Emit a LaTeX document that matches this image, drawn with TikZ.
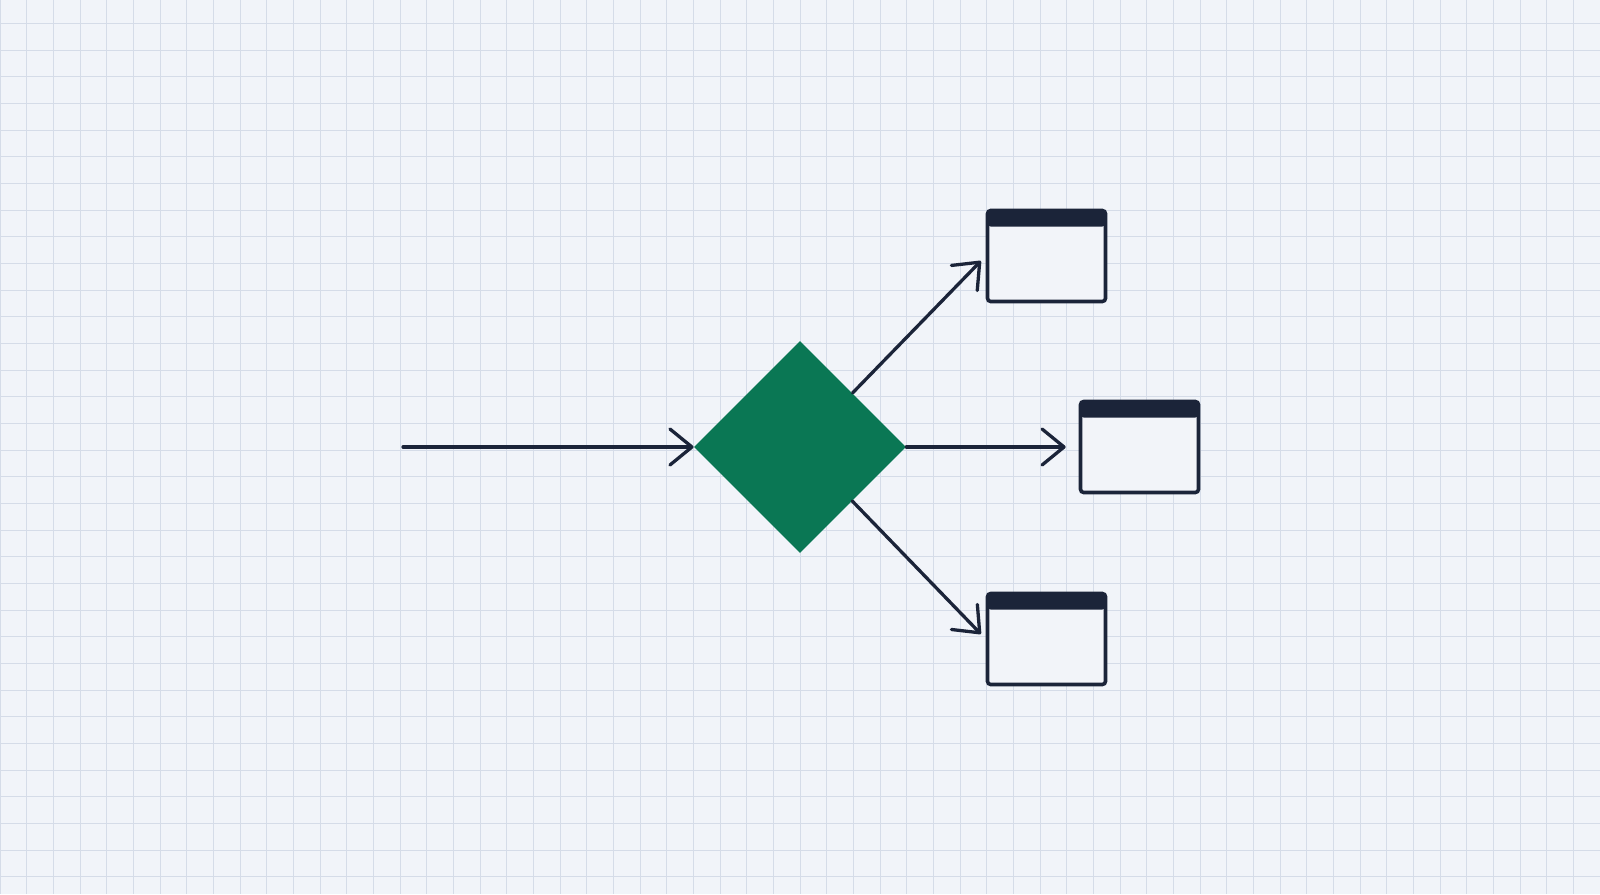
\documentclass[tikz,border=0pt]{standalone}
\usetikzlibrary{shapes.geometric,arrows.meta}
\definecolor{bg}{HTML}{F1F4F9}
\definecolor{gridc}{HTML}{D5DCE8}
\definecolor{navy}{HTML}{1B2439}
\definecolor{dgreen}{HTML}{0A7754}
\definecolor{boxfill}{HTML}{F2F4F9}
\tikzset{
  conn/.style={draw=navy, line width=1.65pt, line cap=round, line join=round,
    -{Straight Barb[length=11pt, width=18pt, line cap=round, line join=round]}},
  decision/.style={diamond, aspect=1, fill=dgreen, inner sep=0pt, minimum size=106pt},
  winbox/.style={rectangle, draw=navy, fill=boxfill, line width=1.8pt, rounded corners=1.6pt,
    minimum width=59pt, minimum height=45.5pt, inner sep=0pt,
    path picture={\fill[navy] (path picture bounding box.north west) rectangle ([yshift=-8pt]path picture bounding box.north east);}}
}
\begin{document}
\begin{tikzpicture}[x=0.5pt, y=-0.5pt]
  \fill[bg] (0,0) rectangle (1600,894);
  \useasboundingbox (0,0) rectangle (1600,894);
  \begin{scope}[draw=gridc, line width=0.5pt]
    \foreach \i in {0,...,60} { \draw (\i*26.6667,0) -- (\i*26.6667,894); }
    \foreach \j in {0,...,33} { \draw (0,23.333+\j*26.6667) -- (1600,23.333+\j*26.6667); }
  \end{scope}
  \node[decision] (d) at (800,447) {};
  \node[winbox] (b1) at (1046.5,256) {};
  \node[winbox] (b2) at (1139.5,447) {};
  \node[winbox] (b3) at (1046.5,639) {};
  \coordinate (in) at (403,447);
  \draw[conn] (in) -- (d.west);
  \draw[conn, shorten >=6.5pt] (d.east) -- (b2.west);
  \draw[conn, shorten >=3.5pt] (d) -- (b1.west);
  \draw[conn, shorten >=3.5pt] (d) -- (b3.west);
\end{tikzpicture}
\end{document}
